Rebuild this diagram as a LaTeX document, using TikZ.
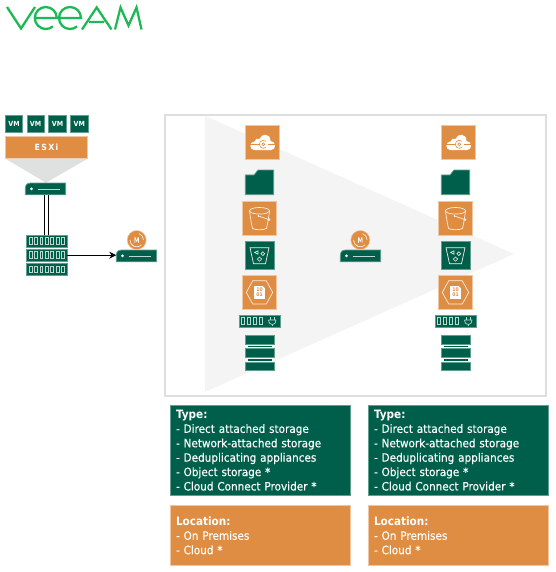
\documentclass[tikz,border=0pt]{standalone}
\usepackage{fontspec}
\setmainfont{DejaVu Sans}[FakeStretch=0.91, UprightFeatures={FakeBold=0.15}]
\usetikzlibrary{arrows.meta, positioning}
\definecolor{veeamgreen}{HTML}{1DB954}
\definecolor{inkgreen}{HTML}{005F4B}
\definecolor{edgegreen}{HTML}{5E9F8E}
\definecolor{inkorange}{HTML}{DF8D42}
\definecolor{edgeorange}{HTML}{EFC6A1}
\definecolor{framegrey}{HTML}{DCDFDE}
\definecolor{fadegrey}{HTML}{F4F4F4}
\definecolor{conegrey}{HTML}{DFE1E0}
\definecolor{palegreen}{HTML}{B9D8CE}
\tikzset{
  greenbox/.style={draw=edgegreen, fill=inkgreen, line width=0.7pt, inner sep=0pt, outer sep=0pt},
  orangebox/.style={draw=edgeorange, fill=inkorange, line width=0.8pt, inner sep=0pt, outer sep=0pt},
  iconline/.style={draw=white!85!inkorange, line width=0.7pt},
  infobox/.style={inner sep=0pt, outer sep=0pt, minimum width=180.7pt, text width=168.7pt,
    align=left, text=white, font=\fontsize{11.5}{14.4}\selectfont},
  vmbox/.style={greenbox, minimum width=17.4pt, minimum height=17pt, text=white,
    font=\fontsize{7}{8}\selectfont\bfseries},
  pics/server/.style={code={
    \node[inner sep=0pt, outer sep=0pt, minimum width=40.4pt, minimum height=11.7pt] (-box) {};
    \draw[greenbox] (-20.2,5.85) -- (-20.2,0) .. controls (-20.2,-3.5) and (-19,-5.85) .. (-15,-5.85)
      -- (20.2,-5.85) -- (20.2,5.85) -- cycle;
    \fill[white] (-14,0) circle (1.5);
    \draw[palegreen, line width=0.8pt] (-8,0) -- (14,0);
  }},
  pics/masterball/.style={code={
    \node[circle, fill=inkorange, draw=edgeorange, line width=0.5pt, minimum size=19pt, inner sep=0pt,
      text=white, font=\fontsize{7}{8}\selectfont] (-ball) {M};
    \draw[white!85!inkorange, line width=0.7pt] (6.8,0) arc (0:-70:6.8);
    \draw[white!85!inkorange, line width=0.7pt] (-6.8,0) arc (180:110:6.8);
    \draw[white!85!inkorange, line width=0.7pt] (-4.8,4.8) arc (135:45:6.8);
  }},
  pics/rackrow/.style={code={
    \node[greenbox, minimum width=40.7pt, minimum height=11.7pt] (-box) {};
    \foreach \cell in {-16.2,-10.8,-5.4,0,5.4,10.8,16.2}{%
      \draw[palegreen, line width=0.7pt] (\cell-1.4,-3.4) rectangle (\cell+1.4,3.4);}
  }},
  pics/cloudicon/.style={code={
    \node[orangebox, minimum size=34.7pt] (-box) {};
    \fill[white] (-8,7.6) .. controls (-13.5,7.6) and (-13.5,-1) .. (-8,-1)
      .. controls (-7.5,-3.5) and (-5,-4.5) .. (-3,-3.5)
      .. controls (-1,-9.5) and (8,-9.5) .. (8,-1.5)
      .. controls (14,-1.5) and (14,7.6) .. (8.5,7.6) -- cycle;
    \draw[inkorange, line width=0.6pt] (-12.6,1.8) -- (-3.5,1.8) (5.5,1.8) -- (12.6,1.8);
    \draw[inkorange, line width=0.6pt] (0.8,1.8) ++(-50:4) arc (-50:-310:4);
    \draw[inkorange, line width=0.6pt] (0.8,1.8) circle (1.5);
  }},
  pics/foldericon/.style={code={
    \draw[greenbox] (-14.2,12.35) -- (-14.2,-7.4) -- (-5.5,-7.4) -- (-1.5,-12.35) -- (14.2,-12.35)
      -- (14.2,12.35) -- cycle;
  }},
  pics/bucketicon/.style={code={
    \node[orangebox, minimum size=34.4pt] (-box) {};
    \draw[iconline] (0,-7.6) ellipse (10 and 3.3);
    \draw[iconline] (-10,-7.6) .. controls (-9,0) and (-8,6) .. (-7,10) .. controls (-4,11.8) and (4,11.8) .. (7,10)
      .. controls (8,6) and (9,0) .. (10,-7.6);
    \draw[iconline] (-1,-2.4) -- (8.8,1);
    \fill[white] (-1,-2.4) circle (0.8);
    \draw[iconline, fill=inkorange] (9.4,1.2) circle (1);
  }},
  pics/dedupicon/.style={code={
    \node[greenbox, minimum size=28.7pt] (-box) {};
    \draw[iconline] (-9.5,-7.7) -- (9.5,-7.7) -- (6,8.3) -- (-6,8.3) -- cycle;
    \draw[iconline, line width=0.6pt] (-1.5,-4.6) -- (-5,-3) -- (-1.5,-1.2) -- cycle;
    \draw[iconline, line width=0.6pt] (3.3,-1.7) circle (1.9);
    \draw[iconline, line width=0.6pt] (0,1.6) -- (2.2,3.7) -- (0,5.8) -- (-2.2,3.7) -- cycle;
  }},
  pics/objecticon/.style={code={
    \node[orangebox, minimum size=34.4pt] (-box) {};
    \draw[iconline] (-13.2,0) -- (-6.8,-11.6) -- (6.8,-11.6) -- (13.2,0) -- (6.8,11.6) -- (-6.8,11.6) -- cycle;
    \fill[white] (-5.4,-6.4) -- (3,-6.4) -- (5.4,-4) -- (5.4,6.4) -- (-5.4,6.4) -- cycle;
    \node[text=inkorange, inner sep=0pt, align=center, font=\fontsize{5}{5.4}\selectfont\bfseries] (-code) {10\\01};
  }},
  pics/plugicon/.style={code={
    \node[greenbox, minimum width=40.7pt, minimum height=11.7pt] (-box) {};
    \foreach \cell in {-16.5,-10.5,-4.5,1.5}{%
      \draw[palegreen, line width=0.7pt] (\cell-1.4,-3.4) rectangle (\cell+1.4,3.4);}
    \draw[palegreen, line width=0.7pt] (9,-1) -- (16.5,-1) .. controls (16,2.5) and (14.5,3.5) .. (12.8,3.5)
      .. controls (11,3.5) and (9.5,2.5) .. (9,-1);
    \draw[palegreen, line width=0.7pt] (12.8,3.5) -- (12.8,5) (11,-1) -- (11,-4) (14.6,-1) -- (14.6,-4);
  }},
  pics/stackicon/.style={code={
    \node[greenbox, minimum width=28.7pt, minimum height=8.7pt] (-top) at (0,-13.2) {};
    \node[greenbox, minimum width=28.7pt, minimum height=8.7pt] (-mid) at (0,0) {};
    \node[greenbox, minimum width=28.7pt, minimum height=8.7pt] (-low) at (0,13.2) {};
    \foreach \gap in {-6.6,6.6}{%
      \fill[inkgreen] (-12,\gap-0.9) rectangle (12,\gap+0.9);}
  }},
}
\begin{document}
\begin{tikzpicture}[x=1pt, y=-1pt]
  \useasboundingbox (0,0) rectangle (555,572);
  \draw[veeamgreen, line width=2.3pt, line join=miter]
    (7,7) -- (21,28.5) -- (35,7)
    (34.8,18) -- (56.8,18) arc (0:-310:11)
    (59,18) -- (81,18) arc (0:-310:11)
    (82,29.5) -- (96.7,7.5) -- (111.5,29.5)
    (89,22) -- (104,22)
    (115,29.5) -- (120.5,7.5) -- (128.5,25.5) -- (136.5,7.5) -- (141.5,29.5);

  \foreach \vmname/\vmx in {vma/14, vmb/35.6, vmc/57.5, vmd/79.3}{%
    \node[vmbox] (\vmname) at (\vmx,123.8) {VM};}
  \node[orangebox, minimum width=82.4pt, minimum height=22pt, text=white,
    font=\fontsize{8.5}{10}\selectfont\bfseries\addfontfeature{LetterSpace=16}] (esxi) at (46.5,147.7) {ESXi};
  \fill[conegrey] (esxi.south west) -- (esxi.south east) -- (46,182.7) -- cycle;

  \pic (srvmain) at (45.5,188.9) {server};
  \pic (rackone) at (46.7,241) {rackrow};
  \pic (racktwo) at (46.7,255.2) {rackrow};
  \pic (rackthree) at (46.7,269.4) {rackrow};
  \foreach \dx in {-2.2,2.2}{%
    \draw[line width=0.9pt] ([xshift=\dx]rackone-box.north) -- ([xshift=\dx]rackone-box.north |- srvmain-box.south);}

  \pic (proxyleft) at (136.5,255.9) {server};
  \pic (ballleft) at (136.7,240) {masterball};
  \draw[-{Stealth[length=7pt, width=7pt]}, line width=0.9pt] (racktwo-box.east) -- (racktwo-box.east -| proxyleft-box.west);

  \draw[framegrey, line width=1.5pt] (165,115) rectangle (546,396);
  \fill[fadegrey] (205,115.8) -- (514,254) -- (205,392) -- cycle;

  \pic (proxymid) at (360.5,255.9) {server};
  \pic (ballmid) at (360.3,240) {masterball};

  \foreach \col/\colx in {a/262.5, b/458.5}{%
    \pic (cloud\col) at (\colx,142.5) {cloudicon};
    \pic (folder\col) at (\colx-3,182.35) {foldericon};
    \pic (bucket\col) at (\colx-3,218.4) {bucketicon};
    \pic (dedup\col) at (\colx-3,255.4) {dedupicon};
    \pic (object\col) at (\colx-3,292.4) {objecticon};
    \pic (plug\col) at (\colx-3,321) {plugicon};
    \pic (stack\col) at (\colx-3,353) {stackicon};}

  \foreach \col/\colx in {a/170, b/368}{%
    \node[infobox, greenbox, anchor=north west, minimum height=90.7pt] (type\col) at (\colx,405) {%
      \textbf{Type:}\\- Direct attached storage\\- Network-attached storage\\- Deduplicating appliances\\%
      - Object storage *\\- Cloud Connect Provider *};
    \node[infobox, orangebox, anchor=north west, minimum height=60.4pt] (location\col) at (\colx,505.3) {%
      \textbf{Location:}\\- On Premises\\- Cloud *};}
\end{tikzpicture}
\end{document}
